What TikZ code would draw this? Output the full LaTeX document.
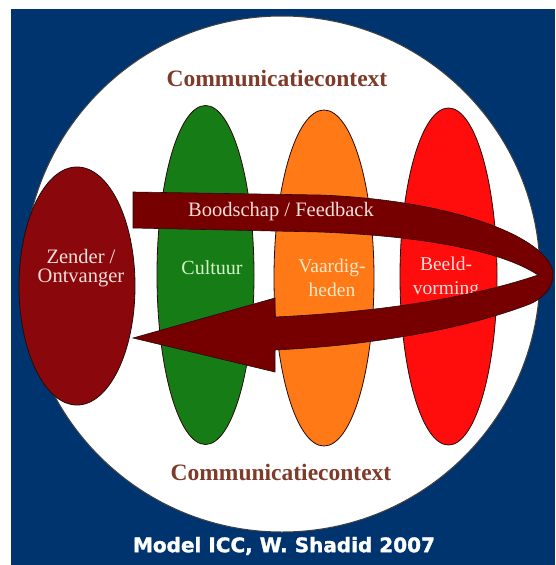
\documentclass[tikz,border=0pt]{standalone}
\usepackage{fontspec}
\setmainfont{Liberation Serif}
\newfontfamily\capfont{DejaVu Sans}[BoldFeatures={FakeBold=1.6}]
\definecolor{bgblue}{RGB}{0,52,110}
\definecolor{ctxbrown}{RGB}{128,58,42}
\definecolor{zenderred}{RGB}{138,8,12}
\definecolor{arrowred}{RGB}{118,0,0}
\definecolor{edgedark}{RGB}{40,10,10}
\definecolor{cgreen}{RGB}{22,125,22}
\definecolor{corange}{RGB}{255,122,22}
\definecolor{cred}{RGB}{255,12,12}
\definecolor{txtpink}{RGB}{246,222,218}
\definecolor{txtgreen}{RGB}{214,244,200}
\definecolor{txtcream}{RGB}{250,232,200}
\tikzset{
  blob/.style={draw=edgedark, line width=0.8pt},
  ctx/.style={text=ctxbrown, font=\fontsize{23.5}{28}\selectfont\bfseries, inner sep=0pt},
  lbl/.style={font=\fontsize{20}{24}\selectfont, align=center, inner sep=0pt},
}
\begin{document}
\begin{tikzpicture}[x=1pt,y=-1pt]
  % canvas and blue backdrop
  \useasboundingbox (0,0) rectangle (555,565);
  \fill[white] (0,0) rectangle (555,565);
  \fill[bgblue] (11,9) rectangle (555,565);
  % context circle
  \fill[white, draw=black!75, line width=1pt] (282,274) circle (258);

  % the four ellipses
  \fill[zenderred, blob] (77,286) ellipse (58 and 119);
  \fill[cgreen, blob] (205.5,275) ellipse (48.5 and 169.5);
  \fill[corange, blob] (324,278) ellipse (50 and 168);
  \fill[cred, blob] (448.5,276.5) ellipse (48.5 and 168.5);

  % labels inside the ellipses
  \node[lbl, text=txtpink, font=\fontsize{20.5}{19}\selectfont] (zender) at (81,268) {Zender /\\Ontvanger};
  \node[lbl, text=txtgreen] (cultuur) at (212,268) {Cultuur};
  \node[lbl, text=txtcream, font=\fontsize{19.5}{24}\selectfont] (vaardig) at (332,278) {Vaardig-\\heden};
  \node[lbl, text=txtpink, font=\fontsize{19.5}{24}\selectfont] (beeld) at (446,278) {Beeld-\\vorming};

  % message / feedback loop arrow
  \fill[arrowred, draw=edgedark, line width=0.6pt]
    (133,192) -- (320,195)
    .. controls (450,200) and (540,235) .. (552,268)
    .. controls (556,282) and (548,296) .. (530,304)
    .. controls (470,327) and (380,345) .. (275,350)
    -- (275,372) -- (133,338) -- (275,298) -- (275,317)
    .. controls (380,312) and (470,298) .. (538,275)
    .. controls (500,250) and (420,236) .. (320,232)
    -- (133,228) -- cycle;
  \node[lbl, text=txtpink, font=\fontsize{20.5}{24}\selectfont] (msg) at (281,212) {Boodschap / Feedback};

  % context captions
  \node[ctx] (ctxtop) at (277,78) {Communicatiecontext};
  \node[ctx] (ctxbot) at (281,472) {Communicatiecontext};

  % credit line
  \node[text=white, font=\capfont\bfseries\fontsize{20}{24}\selectfont, inner sep=0pt] (credit) at (284,546) {Model ICC, W. Shadid 2007};
\end{tikzpicture}
\end{document}
